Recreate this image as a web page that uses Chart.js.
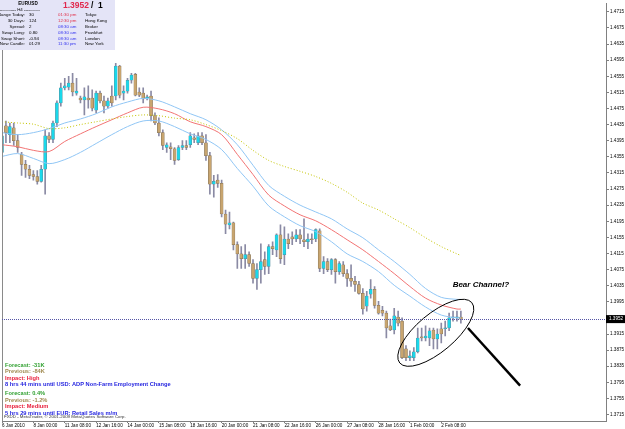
<!DOCTYPE html>
<html>
<head>
<meta charset="utf-8">
<title>EURUSD H4</title>
<script src="https://cdn.jsdelivr.net/npm/chart.js@4.4.1/dist/chart.umd.min.js"></script>
<style>
  html, body { margin: 0; padding: 0; background: #fff; overflow: hidden; }
  #wrap { position: relative; width: 625px; height: 429px; }
</style>
</head>
<body>
<div id="wrap"><canvas id="chart" width="625" height="429"></canvas></div>
<script>
// EURUSD H4 bars (6 Jan 2010 16:00 -> 3 Feb 04:00)
const opens = [
  1.4366, 1.4432, 1.4410, 1.4427, 1.4395, 1.4361, 1.4336, 1.4324, 1.4311, 1.4306,
  1.4294, 1.4324, 1.4407, 1.4398, 1.4439, 1.4489, 1.4526, 1.4528, 1.4538, 1.4513,
  1.4501, 1.4496, 1.4501, 1.4501, 1.4471, 1.4513, 1.4494, 1.4481, 1.4506, 1.4506,
  1.4580, 1.4513, 1.4518, 1.4545, 1.4560, 1.4516, 1.4513, 1.4501, 1.4506, 1.4457,
  1.4439, 1.4415, 1.4378, 1.4380, 1.4375, 1.4348, 1.4378, 1.4383, 1.4385, 1.4402,
  1.4390, 1.4407, 1.4390, 1.4358, 1.4287, 1.4297, 1.4289, 1.4213, 1.4186, 1.4191,
  1.4137, 1.4114, 1.4102, 1.4112, 1.4090, 1.4053, 1.4075, 1.4100, 1.4083, 1.4132,
  1.4124, 1.4161, 1.4112, 1.4151, 1.4156, 1.4151, 1.4161, 1.4149, 1.4144, 1.4151,
  1.4151, 1.4171, 1.4078, 1.4095, 1.4075, 1.4100, 1.4070, 1.4087, 1.4065, 1.4053,
  1.4046, 1.4038, 1.4016, 1.3984, 1.4014, 1.4026, 1.3986, 1.3974, 1.3967, 1.3935,
  1.3925, 1.3957, 1.3947, 1.3878, 1.3856, 1.3856, 1.3871, 1.3908, 1.3905, 1.3905,
  1.3925, 1.3903, 1.3928, 1.3928, 1.3930, 1.3955, 1.3955, 1.3957
];
const highs = [
  1.4420, 1.4444, 1.4439, 1.4439, 1.4410, 1.4366, 1.4346, 1.4334, 1.4321, 1.4321,
  1.4334, 1.4422, 1.4415, 1.4444, 1.4494, 1.4538, 1.4550, 1.4555, 1.4562, 1.4550,
  1.4506, 1.4526, 1.4531, 1.4521, 1.4518, 1.4518, 1.4506, 1.4501, 1.4531, 1.4587,
  1.4582, 1.4531, 1.4550, 1.4562, 1.4562, 1.4526, 1.4526, 1.4508, 1.4518, 1.4464,
  1.4452, 1.4422, 1.4390, 1.4390, 1.4378, 1.4383, 1.4395, 1.4395, 1.4415, 1.4412,
  1.4415, 1.4415, 1.4410, 1.4366, 1.4309, 1.4311, 1.4297, 1.4223, 1.4218, 1.4193,
  1.4144, 1.4132, 1.4137, 1.4119, 1.4100, 1.4090, 1.4139, 1.4119, 1.4137, 1.4144,
  1.4164, 1.4186, 1.4181, 1.4164, 1.4169, 1.4174, 1.4174, 1.4201, 1.4164, 1.4164,
  1.4176, 1.4176, 1.4107, 1.4102, 1.4102, 1.4102, 1.4095, 1.4095, 1.4075, 1.4087,
  1.4058, 1.4046, 1.4028, 1.4021, 1.4050, 1.4033, 1.3996, 1.3984, 1.3972, 1.3952,
  1.3979, 1.3972, 1.3955, 1.3886, 1.3873, 1.3881, 1.3930, 1.3930, 1.3935, 1.3930,
  1.3930, 1.3928, 1.3942, 1.3947, 1.3967, 1.3972, 1.3972, 1.3972
];
const lows = [
  1.4353, 1.4390, 1.4390, 1.4383, 1.4366, 1.4309, 1.4304, 1.4301, 1.4297, 1.4287,
  1.4292, 1.4262, 1.4390, 1.4390, 1.4430, 1.4481, 1.4521, 1.4521, 1.4506, 1.4508,
  1.4489, 1.4459, 1.4476, 1.4469, 1.4464, 1.4489, 1.4464, 1.4476, 1.4481, 1.4496,
  1.4501, 1.4496, 1.4513, 1.4538, 1.4506, 1.4504, 1.4489, 1.4496, 1.4444, 1.4435,
  1.4407, 1.4373, 1.4366, 1.4348, 1.4336, 1.4346, 1.4373, 1.4373, 1.4378, 1.4390,
  1.4385, 1.4385, 1.4346, 1.4262, 1.4255, 1.4279, 1.4206, 1.4164, 1.4176, 1.4124,
  1.4078, 1.4078, 1.4078, 1.4083, 1.4041, 1.4026, 1.4041, 1.4063, 1.4065, 1.4112,
  1.4107, 1.4090, 1.4087, 1.4127, 1.4137, 1.4144, 1.4139, 1.4132, 1.4127, 1.4139,
  1.4144, 1.4070, 1.4065, 1.4070, 1.4063, 1.4041, 1.4063, 1.4058, 1.4033, 1.4033,
  1.4021, 1.4014, 1.3964, 1.3972, 1.4004, 1.3979, 1.3964, 1.3960, 1.3905, 1.3923,
  1.3915, 1.3935, 1.3854, 1.3849, 1.3849, 1.3849, 1.3868, 1.3898, 1.3898, 1.3886,
  1.3878, 1.3878, 1.3893, 1.3910, 1.3923, 1.3947, 1.3947, 1.3942
];
const closes = [
  1.4407, 1.4415, 1.4430, 1.4395, 1.4378, 1.4336, 1.4324, 1.4309, 1.4306, 1.4294,
  1.4324, 1.4407, 1.4398, 1.4439, 1.4489, 1.4526, 1.4531, 1.4538, 1.4516, 1.4518,
  1.4496, 1.4504, 1.4496, 1.4476, 1.4513, 1.4494, 1.4481, 1.4494, 1.4489, 1.4580,
  1.4508, 1.4518, 1.4545, 1.4558, 1.4508, 1.4508, 1.4499, 1.4504, 1.4457, 1.4439,
  1.4415, 1.4383, 1.4385, 1.4375, 1.4346, 1.4378, 1.4383, 1.4378, 1.4407, 1.4398,
  1.4407, 1.4390, 1.4358, 1.4287, 1.4294, 1.4289, 1.4213, 1.4188, 1.4191, 1.4137,
  1.4114, 1.4102, 1.4112, 1.4090, 1.4053, 1.4075, 1.4095, 1.4083, 1.4132, 1.4127,
  1.4161, 1.4102, 1.4151, 1.4139, 1.4151, 1.4161, 1.4151, 1.4144, 1.4151, 1.4149,
  1.4174, 1.4078, 1.4095, 1.4075, 1.4100, 1.4070, 1.4090, 1.4065, 1.4053, 1.4046,
  1.4038, 1.4016, 1.3977, 1.4009, 1.4026, 1.3986, 1.3967, 1.3967, 1.3930, 1.3925,
  1.3960, 1.3942, 1.3856, 1.3856, 1.3861, 1.3871, 1.3905, 1.3905, 1.3910, 1.3923,
  1.3903, 1.3915, 1.3915, 1.3930, 1.3955, 1.3957, 1.3957, 1.3952
];

// indicator readings, taken every 4th bar
const maIndex = [0, 4, 8, 12, 16, 20, 24, 28, 32, 36, 40, 44, 48, 52, 56, 60, 64, 68, 72, 76,
  80, 84, 88, 92, 96, 100, 104, 108, 112, 116, 117];
const maSlow = [1.4442, 1.4439, 1.4436, 1.4425, 1.4427, 1.4435, 1.4442, 1.4449, 1.4455, 1.4459,
  1.4457, 1.4451, 1.4447, 1.4435, 1.4420, 1.4400, 1.4371, 1.4346, 1.4331, 1.4319,
  1.4306, 1.4289, 1.4267, 1.4240, 1.4223, 1.4201, 1.4179, 1.4154, 1.4132, 1.4114, 1.4110];
const maMid = [1.4385, 1.4380, 1.4371, 1.4368, 1.4393, 1.4412, 1.4430, 1.4447, 1.4464, 1.4478,
  1.4474, 1.4462, 1.4442, 1.4430, 1.4410, 1.4361, 1.4311, 1.4260, 1.4233, 1.4211,
  1.4196, 1.4174, 1.4149, 1.4124, 1.4095, 1.4065, 1.4033, 1.4004, 1.3987, 1.3977, 1.3977];
const bandUpper = [1.4415, 1.4410, 1.4415, 1.4425, 1.4439, 1.4449, 1.4462, 1.4479, 1.4491, 1.4500,
  1.4494, 1.4479, 1.4462, 1.4447, 1.4422, 1.4385, 1.4334, 1.4284, 1.4257, 1.4235,
  1.4218, 1.4201, 1.4176, 1.4154, 1.4124, 1.4095, 1.4063, 1.4028, 1.4006, 1.4001, 1.4001];
const bandLower = [1.4356, 1.4363, 1.4351, 1.4338, 1.4348, 1.4366, 1.4388, 1.4410, 1.4430, 1.4444,
  1.4444, 1.4430, 1.4412, 1.4398, 1.4373, 1.4326, 1.4282, 1.4233, 1.4206, 1.4184,
  1.4169, 1.4144, 1.4114, 1.4095, 1.4070, 1.4036, 1.4009, 1.3982, 1.3962, 1.3955, 1.3955];

const yTicks = [1.3715, 1.3755, 1.3795, 1.3835, 1.3875, 1.3915, 1.3955, 1.3995, 1.4035, 1.4075,
  1.4115, 1.4155, 1.4195, 1.4235, 1.4275, 1.4315, 1.4355, 1.4395, 1.4435, 1.4475,
  1.4515, 1.4555, 1.4595, 1.4635, 1.4675, 1.4715];
const xTickIndex = [0, 8, 16, 24, 32, 40, 48, 56, 64, 72, 80, 88, 96, 104, 112];
const xTickLabels = ['6 Jan 2010', '8 Jan 00:00', '11 Jan 08:00', '12 Jan 16:00', '14 Jan 00:00',
  '15 Jan 08:00', '18 Jan 16:00', '20 Jan 00:00', '21 Jan 08:00', '22 Jan 16:00',
  '26 Jan 00:00', '27 Jan 08:00', '28 Jan 16:00', '1 Feb 00:00', '2 Feb 08:00'];
const bidPrice = 1.3952;

const FONT = "'Liberation Sans', Arial, sans-serif";
const UP = '#1ad8ea', DOWN = '#c8a56f', WICK = '#8a8aa4';

const bullish = closes.map((c, i) => c >= opens[i]);
const wickData = highs.map((h, i) => ({ x: i, y: [lows[i], h] }));
const bodyData = opens.map((o, i) => ({ x: i, y: [o, closes[i]] }));
const maPoints = arr => maIndex.map((x, i) => ({ x, y: arr[i] }));

// annotations in chart units (bar index / price)
const ellipseNote = { x: 110.6, y: 1.3918, rx: 47, ry: 19, angle: -40 };
const arrowNote = { from: [118.8, 1.3930], to: [132.1, 1.3787] };
const textNote = { x: 114.9, y: 1.4038, text: 'Bear Channel?' };

function txt(ctx, s, x, y, font, color, align) {
  ctx.font = font;
  ctx.fillStyle = color;
  ctx.textAlign = align || 'left';
  ctx.textBaseline = 'middle';
  ctx.fillText(s, x, y);
}

const overlay = {
  id: 'overlay',
  afterDatasetsDraw(chart) {
    const { ctx, chartArea: a, scales: { x, y } } = chart;
    ctx.save();
    // left frame line
    ctx.strokeStyle = '#8a8a8a';
    ctx.lineWidth = 1;
    ctx.beginPath();
    ctx.moveTo(a.left + 0.5, a.top);
    ctx.lineTo(a.left + 0.5, a.bottom);
    ctx.stroke();

    // bid line
    const by = Math.round(y.getPixelForValue(bidPrice)) + 0.5;
    ctx.strokeStyle = '#5656a6';
    ctx.setLineDash([1, 1]);
    ctx.beginPath();
    ctx.moveTo(a.left, by);
    ctx.lineTo(a.right, by);
    ctx.stroke();
    ctx.setLineDash([]);

    // ellipse + pointer
    const ex = x.getPixelForValue(ellipseNote.x), ey = y.getPixelForValue(ellipseNote.y);
    ctx.strokeStyle = '#000';
    ctx.lineWidth = 1;
    ctx.beginPath();
    ctx.ellipse(ex, ey, ellipseNote.rx, ellipseNote.ry, ellipseNote.angle * Math.PI / 180, 0, Math.PI * 2);
    ctx.stroke();
    ctx.lineWidth = 2.5;
    ctx.beginPath();
    ctx.moveTo(x.getPixelForValue(arrowNote.from[0]), y.getPixelForValue(arrowNote.from[1]));
    ctx.lineTo(x.getPixelForValue(arrowNote.to[0]), y.getPixelForValue(arrowNote.to[1]));
    ctx.stroke();
    txt(ctx, textNote.text, x.getPixelForValue(textNote.x), y.getPixelForValue(textNote.y),
      'italic bold 8px ' + FONT, '#000');
    ctx.restore();
  },
  afterDraw(chart) {
    const { ctx, chartArea: a, scales: { y } } = chart;
    ctx.save();
    // bid price box on the axis
    const by = y.getPixelForValue(bidPrice);
    ctx.fillStyle = '#000';
    ctx.fillRect(a.right, by - 4, 19, 8);
    txt(ctx, bidPrice.toFixed(4), a.right + 3, by, '4.6px ' + FONT, '#fff');

    // info panel
    ctx.fillStyle = '#e4e4f7';
    ctx.fillRect(0, 0, 115, 50);
    const small = '4.4px ' + FONT;
    txt(ctx, 'EURUSD', 28, 3.6, 'bold 4.6px ' + FONT, '#000', 'center');
    txt(ctx, '----------- H4 -----------', 20, 9.4, small, '#000', 'center');
    txt(ctx, '1.3952', 63, 6, 'bold 8.5px ' + FONT, '#e0284e');
    txt(ctx, '/  1', 91, 6, 'bold 8.5px ' + FONT, '#000');
    const rows = [
      ['Range Today:', '30', '01:30 pm', 'Tokyo', '#e0304a'],
      ['30 Days:', '124', '12:30 pm', 'Hong Kong', '#e0304a'],
      ['Spread:', '2', '08:30 am', 'Broker', '#3434f0'],
      ['Swap Long:', '0.80', '08:30 am', 'Frankfurt', '#3434f0'],
      ['Swap Short:', '-0.94', '08:30 am', 'London', '#3434f0'],
      ['New Candle:', '01:29', '11:30 pm', 'New York', '#3434f0']
    ];
    rows.forEach((r, i) => {
      const ry = 15.2 + i * 5.8;
      txt(ctx, r[0], 25, ry, small, '#000', 'right');
      txt(ctx, r[1], 29, ry, small, '#000');
      txt(ctx, r[2], 58, ry, small, r[4]);
      txt(ctx, r[3], 85, ry, small, '#000');
    });

    // economic calendar lines
    const news = [
      ['Forecast: -31K', '#30a030', 365],
      ['Previous: -84K', '#a08a50', 371.7],
      ['Impact: High', '#e8203c', 378.3],
      ['8 hrs 44 mins until USD: ADP Non-Farm Employment Change', '#2626e0', 384.7],
      ['Forecast: 0.4%', '#30a030', 393.3],
      ['Previous: -1.2%', '#a08a50', 400],
      ['Impact: Medium', '#e8203c', 406.7],
      ['5 hrs 29 mins until EUR: Retail Sales m/m', '#2626e0', 413]
    ];
    news.forEach(n => txt(ctx, n[0], 5, n[2], 'bold 5.7px ' + FONT, n[1]));
    txt(ctx, 'FXDD - MetaTrader, \u00a9 2001-2009 MetaQuotes Software Corp.', 4, 416.5, '4.4px ' + FONT, '#333');
    ctx.restore();
  }
};

new Chart(document.getElementById('chart'), {
  type: 'bar',
  data: {
    datasets: [
      { type: 'line', data: maPoints(maSlow), borderColor: '#c4c400', borderWidth: 1, borderDash: [1, 2],
        pointRadius: 0, tension: 0.3, order: 0 },
      { type: 'line', data: maPoints(bandUpper), borderColor: '#90c6f5', borderWidth: 1,
        pointRadius: 0, tension: 0.3, order: 0 },
      { type: 'line', data: maPoints(maMid), borderColor: '#f27474', borderWidth: 1,
        pointRadius: 0, tension: 0.3, order: 0 },
      { type: 'line', data: maPoints(bandLower), borderColor: '#90c6f5', borderWidth: 1,
        pointRadius: 0, tension: 0.3, order: 0 },
      { data: bodyData, grouped: false, barThickness: 3, minBarLength: 1, order: 1,
        backgroundColor: bullish.map(b => b ? UP : DOWN),
        borderColor: bullish.map(b => b ? '#5a8a9a' : '#7d6c52'), borderWidth: 0.5, borderSkipped: false },
      { data: wickData, grouped: false, barThickness: 1, order: 2,
        backgroundColor: WICK, borderWidth: 0 }
    ]
  },
  options: {
    responsive: false,
    animation: false,
    devicePixelRatio: 1,
    layout: { padding: { left: 2, top: 0, right: 0, bottom: 0 } },
    plugins: { legend: { display: false }, tooltip: { enabled: false } },
    scales: {
      x: {
        type: 'linear', min: 0, max: 154, offset: false,
        grid: { drawOnChartArea: false, tickLength: 2, color: '#808080', offset: false },
        border: { color: '#808080' },
        ticks: {
          font: { size: 4.6, family: FONT }, color: '#000', align: 'start',
          maxRotation: 0, autoSkip: false, padding: 0,
          callback: (v, i) => xTickLabels[i]
        },
        afterBuildTicks: s => { s.ticks = xTickIndex.map(v => ({ value: v })); },
        afterFit: s => { s.height = 8; }
      },
      y: {
        position: 'right', min: 1.3699, max: 1.4735,
        grid: { drawOnChartArea: false, tickLength: 3, color: '#808080' },
        border: { color: '#808080' },
        ticks: { font: { size: 4.6, family: FONT }, color: '#000', padding: 1, callback: v => v.toFixed(4) },
        afterBuildTicks: s => { s.ticks = yTicks.map(v => ({ value: v })); },
        afterFit: s => { s.width = 19; }
      }
    }
  },
  plugins: [overlay]
});
</script>
</body>
</html>
